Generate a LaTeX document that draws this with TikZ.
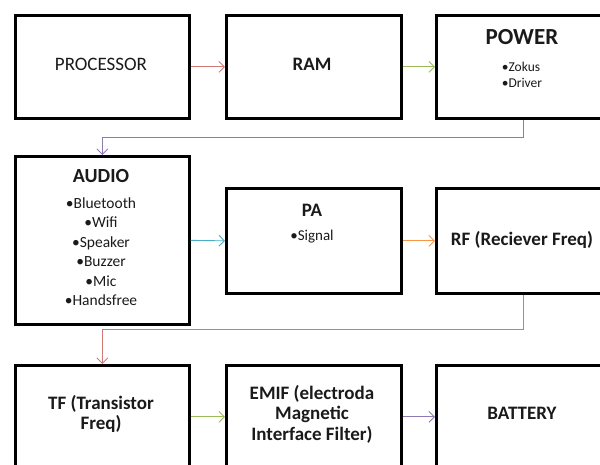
\documentclass[tikz,border=0pt]{standalone}
\usepackage{fontspec}
\setmainfont{Carlito}
\usetikzlibrary{arrows.meta}
\definecolor{cred}{HTML}{D07A78}
\definecolor{cgreen}{HTML}{9BBB59}
\definecolor{cpurple}{HTML}{8E79B0}
\definecolor{cblue}{HTML}{4BACC6}
\definecolor{corange}{HTML}{F79646}
\definecolor{txt}{HTML}{1A1A1A}
\tikzset{
  blockbox/.style={draw=black, line width=2.7pt, rectangle, inner sep=0pt, anchor=north west},
  conn/.style={line width=0.9pt, -{Straight Barb[length=5.5pt,width=11pt]}},
  lbl/.style={text=txt, inner sep=0pt, align=center, font=\fontsize{19}{23}\selectfont\bfseries},
  lblreg/.style={text=txt, inner sep=0pt, align=center, font=\fontsize{19}{23}\selectfont},
  items/.style={text=txt, inner sep=0pt, align=center, font=\fontsize{15.5}{19.5}\selectfont},
}
\begin{document}
\begin{tikzpicture}[x=1pt,y=-1pt]
\useasboundingbox (0,0) rectangle (600,465);
\clip (0,0) rectangle (600,465);
% boxes
\node[blockbox, minimum width=174pt, minimum height=103pt] (proc) at (14,14) {};
\node[blockbox, minimum width=175pt, minimum height=103pt] (ram) at (225,14) {};
\node[blockbox, minimum width=175pt, minimum height=103pt] (power) at (435,14) {};
\node[blockbox, minimum width=174pt, minimum height=168pt] (audio) at (14,155) {};
\node[blockbox, minimum width=175pt, minimum height=105pt] (pa) at (225,187) {};
\node[blockbox, minimum width=175pt, minimum height=105pt] (rf) at (435,187) {};
\node[blockbox, minimum width=174pt, minimum height=103pt] (tf) at (14,364) {};
\node[blockbox, minimum width=175pt, minimum height=103pt] (emif) at (225,364) {};
\node[blockbox, minimum width=175pt, minimum height=103pt] (batt) at (435,364) {};
% texts
\node[lblreg] (tproc) at (101,64) {PROCESSOR};
\node[lbl] (tram) at (312,64) {RAM};
\node[lbl, font=\fontsize{23}{26}\selectfont\bfseries] (tpower) at (522,37) {POWER};
\node[items, align=left, font=\fontsize{13.5}{16}\selectfont] (ipower) at (522,75) {•Zokus\\•Driver};
\node[lbl, font=\fontsize{20}{24}\selectfont\bfseries] (taudio) at (101,176) {AUDIO};
\node[items] (iaudio) at (101,251.5) {•Bluetooth\\•Wifi\\•Speaker\\•Buzzer\\•Mic\\•Handsfree};
\node[lbl] (tpa) at (312,210) {PA};
\node[items, font=\fontsize{15}{19}\selectfont] (ipa) at (312,237) {•Signal};
\node[lbl, font=\fontsize{19}{22}\selectfont\bfseries] (trf) at (522,240) {RF (Reciever Freq)};
\node[lbl, font=\fontsize{19}{20}\selectfont\bfseries] (ttf) at (101,414) {TF (Transistor\\Freq)};
\node[lbl, font=\fontsize{19}{20.5}\selectfont\bfseries] (temif) at (312,414) {EMIF (electroda\\Magnetic\\Interface Filter)};
\node[lbl] (tbatt) at (522,413) {BATTERY};
% connectors
\draw[conn, cred] (proc.east) -- (ram.west);
\draw[conn, cgreen] (ram.east) -- (power.west);
\draw[conn, cpurple] (power.south) -- ++(0,18) -| (audio.north);
\draw[conn, cblue] (audio.east) -- (pa.west);
\draw[conn, corange] (pa.east) -- (rf.west);
\draw[conn, cred] (rf.south) -- ++(0,35) -| (tf.north);
\draw[conn, cgreen] (tf.east) -- (emif.west);
\draw[conn, cpurple] (emif.east) -- (batt.west);
\end{tikzpicture}
\end{document}
